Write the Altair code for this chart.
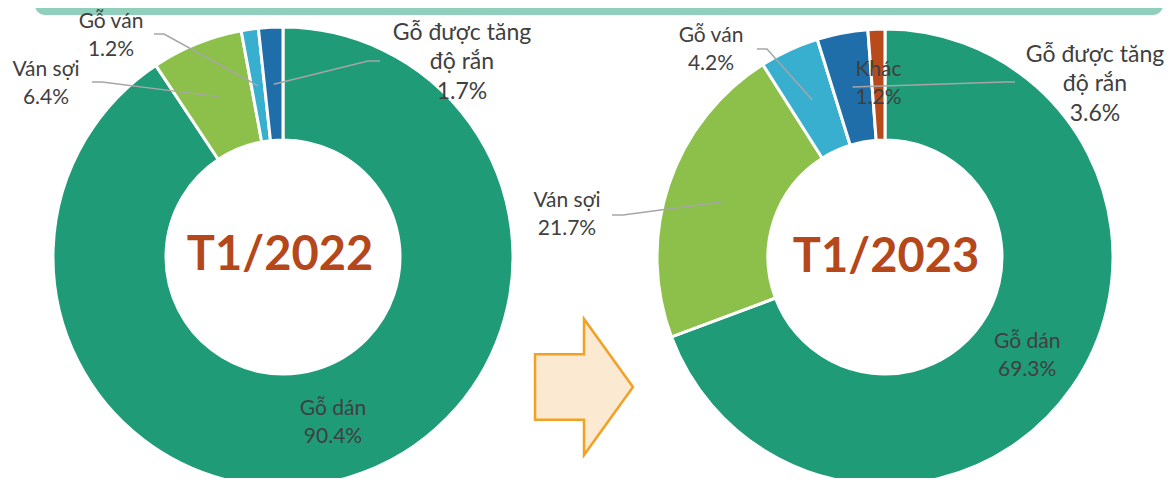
import math
import altair as alt
import pandas as pd

# ---------------- data ----------------
categories = ["Gỗ dán", "Ván sợi", "Gỗ ván", "Gỗ được tăng độ rắn", "Khác"]
label_names = ["Gỗ dán", "Ván sợi", "Gỗ ván", "Gỗ được tăng\nđộ rắn", "Khác"]
values_2022 = [90.4, 6.4, 1.2, 1.7]
values_2023 = [69.3, 21.7, 4.2, 3.6, 1.2]
periods = ["T1/2022", "T1/2023"]
colors = ["#1F9B78", "#8CC04A", "#38AFCF", "#1F6EAA", "#B94A1B"]

# ---------------- layout (page pixels) ----------------
M = 8


def px(v):
    return v - M


DONUT = {
    "T1/2022": dict(cx=283, cy=257, R=230, r=117, title=(280, 256), lab_r=173),
    "T1/2023": dict(cx=885, cy=257, R=228, r=117, title=(886, 258), lab_r=173),
}
INSIDE = {"T1/2022": ["Gỗ dán"], "T1/2023": ["Gỗ dán", "Khác"]}
# outside labels: label block centre and leader start points
OUTSIDE = {
    ("T1/2022", "Ván sợi"): dict(label=(46, 84), start=[(92, 82), (102, 82)]),
    ("T1/2022", "Gỗ ván"): dict(label=(111, 36), start=[(154, 34), (164, 34)]),
    ("T1/2022", "Gỗ được tăng độ rắn"): dict(label=(462, 62), start=[(380, 61), (368, 61)]),
    ("T1/2023", "Ván sợi"): dict(label=(567, 215), start=[(612, 215), (623, 215)]),
    ("T1/2023", "Gỗ ván"): dict(label=(711, 50), start=[(757, 49), (767, 49)]),
    ("T1/2023", "Gỗ được tăng độ rắn"): dict(label=(1095, 84), start=[(1015, 82), (1005, 82)]),
}
BIG = {"Gỗ được tăng độ rắn"}
SMALL_FS, SMALL_LH = 21, 28
BIG_FS, BIG_LH = 23, 29.5
TEXT_COLOR = "#404040"
FONT = "Lato"

color_scale = alt.Scale(domain=categories, range=colors)


def donut(period, values):
    g = DONUT[period]
    cats = categories[: len(values)]
    total = sum(values)
    rows = []
    cum = 0.0
    for i, (c, v) in enumerate(zip(cats, values)):
        name = label_names[categories.index(c)]
        txt = f"{name}\n{v:.1f}%"
        mid = 2 * math.pi * (cum + v / 2) / total
        rows.append(dict(cat=c, value=v, idx=i,
                         inner=txt if c in INSIDE[period] else "",
                         txt=txt, mid=mid))
        cum += v
    df = pd.DataFrame(rows)

    base = alt.Chart(df).encode(
        theta=alt.Theta("value:Q", stack=True),
        order=alt.Order("idx:Q"),
        x=alt.value(px(g["cx"])),
        y=alt.value(px(g["cy"])),
    )
    arcs = base.mark_arc(radius=g["R"], radius2=g["r"], stroke="white", strokeWidth=3).encode(
        color=alt.Color("cat:N", scale=color_scale, legend=None)
    )
    inner = base.mark_text(radius=g["lab_r"], dy=-SMALL_LH / 2, font=FONT, fontSize=SMALL_FS,
                           lineHeight=SMALL_LH, color=TEXT_COLOR, align="center",
                           baseline="middle", lineBreak="\n").encode(text="inner:N")

    # outside labels + leader lines
    lab_rows, line_rows = [], []
    for row in rows:
        key = (period, row["cat"])
        if key not in OUTSIDE:
            continue
        L = OUTSIDE[key]
        isbig = row["cat"] in BIG
        nlines = row["txt"].count("\n") + 1
        lh = BIG_LH if isbig else SMALL_LH
        y0 = L["label"][1] - (nlines - 1) / 2 * lh
        lab_rows.append(dict(x=px(L["label"][0]), y=px(y0), text=row["txt"], big=isbig))
        ax = g["cx"] + g["lab_r"] * math.sin(row["mid"])
        ay = g["cy"] - g["lab_r"] * math.cos(row["mid"])
        pts = L["start"] + [(ax, ay)]
        for k, (xx, yy) in enumerate(pts):
            line_rows.append(dict(seg=row["cat"], k=k, x=px(xx), y=px(yy)))
    lab = pd.DataFrame(lab_rows)
    lines = alt.Chart(pd.DataFrame(line_rows)).mark_line(color="#A6A6A6", strokeWidth=1.5).encode(
        x=alt.X("x:Q", scale=None, axis=None),
        y=alt.Y("y:Q", scale=None, axis=None),
        detail="seg:N",
        order="k:Q",
    )
    small = alt.Chart(lab[~lab.big]).mark_text(
        font=FONT, fontSize=SMALL_FS, lineHeight=SMALL_LH, color=TEXT_COLOR, align="center",
        baseline="middle", lineBreak="\n").encode(
        x=alt.X("x:Q", scale=None, axis=None), y=alt.Y("y:Q", scale=None, axis=None), text="text:N")
    big = alt.Chart(lab[lab.big]).mark_text(
        font=FONT, fontSize=BIG_FS, lineHeight=BIG_LH, color=TEXT_COLOR, align="center",
        baseline="middle", lineBreak="\n").encode(
        x=alt.X("x:Q", scale=None, axis=None), y=alt.Y("y:Q", scale=None, axis=None), text="text:N")
    title = alt.Chart(pd.DataFrame({"t": [period]})).mark_text(
        font=FONT, fontSize=47, fontWeight="bold", color="#B5481B", align="center",
        baseline="middle").encode(
        text="t:N", x=alt.value(px(g["title"][0])), y=alt.value(px(g["title"][1])))
    return alt.layer(arcs, lines, inner, small, big, title)


one = pd.DataFrame({"a": [0]})
banner = alt.Chart(one).mark_rect(cornerRadius=10, color="#8FCFBC").encode(
    x=alt.value(px(35)), x2=alt.value(px(1163)), y=alt.value(-40), y2=alt.value(px(15)))

arrow_path = "M -0.72 -0.48 L 0 -0.48 L 0 -1 L 0.72 0 L 0 1 L 0 0.48 L -0.72 0.48 Z"
arrow = alt.Chart(one).mark_point(
    shape=arrow_path, size=136 * 136, filled=True, fill="#FCE9D1", fillOpacity=1,
    stroke="#F1A224", strokeWidth=2.5, opacity=1).encode(
    x=alt.value(px(584)), y=alt.value(px(387)))

chart = alt.layer(
    banner,
    arrow,
    donut("T1/2022", values_2022),
    donut("T1/2023", values_2023),
).resolve_scale(theta="independent").properties(
    width=1157, height=470, padding=0, autosize="none"
).configure_view(stroke=None)

chart.save("out.html", embed_options={"renderer": "svg", "actions": False})
